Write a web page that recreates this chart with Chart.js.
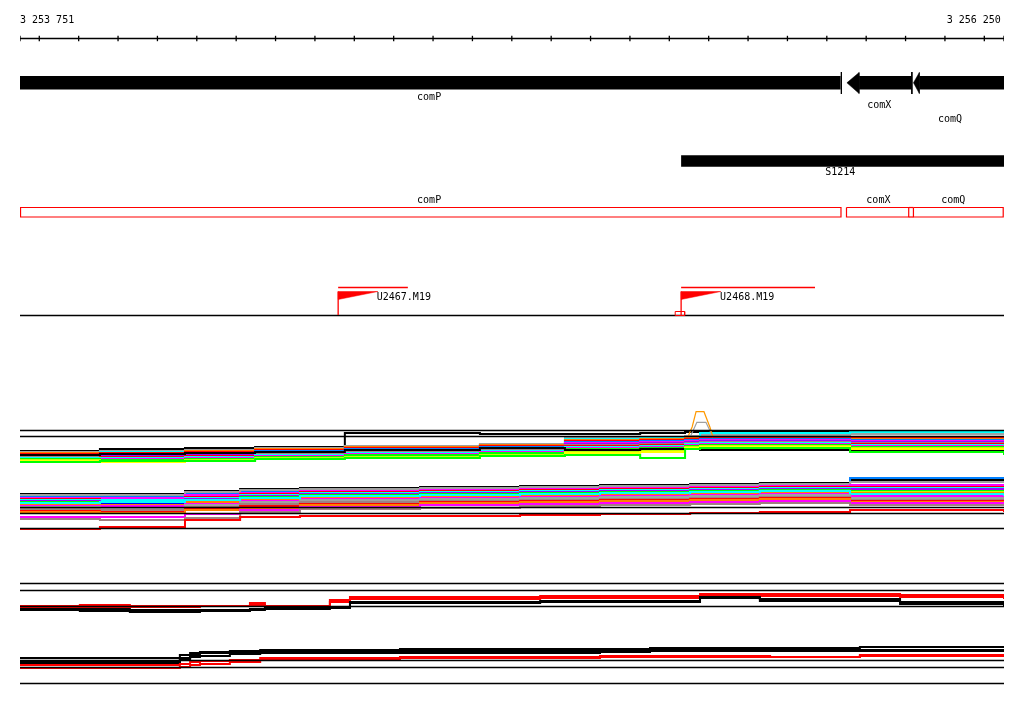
<!DOCTYPE html>
<html><head><meta charset="utf-8">
<script src="https://cdn.jsdelivr.net/npm/chart.js@4.4.1/dist/chart.umd.min.js"></script>
<style>html,body{margin:0;padding:0;background:#fff;overflow:hidden}#wrap{width:1024px;height:714px;position:relative}</style>
</head><body><div id="wrap"><canvas id="c"></canvas></div>
<script>
// ---- view / ruler ----
const viewStart = 3253751, viewEnd = 3256250;
const rulerTicks = [3253751,3253800,3253900,3254000,3254100,3254200,3254300,3254400,3254500,3254600,3254700,3254800,3254900,3255000,3255100,3255200,3255300,3255400,3255500,3255600,3255700,3255800,3255900,3256000,3256100,3256200,3256250];
const rulerLabels = ['3 253 751','3 256 250'];

// ---- genes (arrow track) ----
const geneNames  = ['comP','comX','comQ'];
const geneStart  = [3253751, 3255851, 3256020];
const geneEnd    = [3255835, 3256016, 3256250];
const geneStrand = ['+','-','-'];
const geneArrow  = [0, 31, 15];
const geneMarks  = [3255837, 3256016];

// ---- segment ----
const segNames = ['S1214'];
const segStart = [3255430];
const segEnd   = [3256250];

// ---- annotation boxes ----
const boxNames = ['comP','comX','comQ'];
const boxStart = [3253751, 3255850, 3256020];
const boxEnd   = [3255836, 3256008, 3256248];
const boxMarks = [3256008, 3256020];

// ---- primers ----
const primerNames = ['U2467.M19','U2468.M19'];
const primerPos   = [3254559, 3255430];
const primerSpan  = [3254736, 3255770];

// ---- horizontal reference lines (track rows) ----
const refRows = [315.5, 430.5, 436.5, 507.5, 513.5, 528.5, 583.5, 590.5, 606.5, 660.5, 667.5, 683.5];

// ---- profile bundle 1 (value i holds from X[i] to X[i+1]) ----
const bundle1X = [3253751,3253954,3254170,3254348,3254576,3254919,3255135,3255326,3255440,3255478,3255859,3256250];
const bundle1Colors = ['#000000','#a0a0a0','#00ffff','#ff8000','#ff0000','#0080ff','#ff00ff','#a000ff','#a08080','#ff0000','#00ffff','#ff00ff','#00ff00','#c0ff00','#ffff00','#000000','#00ff00'];
const bundle1Y = [
 [451,449,448,447,433,434,434,433,432,431,431,431],
 [452,451,450,448,446,444,438,437,436,435,434,434],
 [453,452,451,449,447,445,439,438,437,433,432,433],
 [453,453,451,449,447,445,440,439,438,437,438,439],
 [454,453,452,450,448,446,441,440,439,438,437,437],
 [455,454,453,451,449,447,442,441,440,439,440,441],
 [456,455,454,452,450,448,443,442,441,440,441,442],
 [457,456,455,453,451,449,444,443,442,441,442,443],
 [457,457,456,454,452,450,445,444,443,442,443,444],
 [458,457,456,455,453,451,446,445,444,443,444,445],
 [458,458,457,455,453,451,447,446,444,443,445,446],
 [459,459,458,456,454,452,448,447,445,444,446,447],
 [459,460,459,457,455,453,449,448,446,445,447,448],
 [460,461,460,458,457,455,452,451,447,446,448,449],
 [461,462,461,459,458,456,453,452,448,447,449,450],
 [455,454,453,452,450,448,450,449,449,450,451,452],
 [462,461,461,459,458,456,455,458,449,448,452,455]
];
const bumpOrangeX = [3255447,3255458,3255468,3255488,3255503,3255511];
const bumpOrangeY = [437,427,411.7,411.7,427,437];
const bumpGrayX = [3255453,3255470,3255493,3255511];
const bumpGrayY = [437,422.3,422.3,437];

// ---- profile bundle 2 ----
const bundle2X = [3253751,3253954,3254170,3254310,3254462,3254767,3255021,3255224,3255453,3255630,3255859,3256250];
const bundle2Colors = ['#000000','#0080ff','#a0a0a0','#ff00ff','#ff0000','#00ffff','#a000ff','#00ff00','#c0ff00','#0000ff','#ff8000','#ff00ff','#00ffff','#a0a0a0','#a08080','#ff0000','#ff8000','#ff00ff','#a08080','#ff0000'];
const bundle2Y = [
 [494,494,491,489,488,487,486,485,484,483,480,480],
 [496,496,493,491,489,488,487,486,485,484,478,478],
 [495,495,492,490,489,488,487,486,485,484,482,482],
 [498,498,495,493,491,490,489,488,487,486,485,486],
 [499,500,497,494,492,491,490,489,488,487,487,487],
 [500,500,498,495,493,492,491,490,489,488,488,489],
 [501,502,499,496,494,493,492,491,490,489,489,490],
 [502,503,500,497,495,494,493,492,491,490,491,491],
 [503,504,501,498,496,495,494,493,492,491,492,492],
 [504,503,501,499,497,497,496,495,494,493,495,495],
 [505,505,502,499,497,496,495,494,493,492,493,494],
 [506,506,504,501,499,498,497,496,495,494,496,497],
 [503,502,500,498,496,495,494,493,492,491,494,496],
 [507,508,505,502,500,499,498,497,496,495,498,499],
 [509,510,507,504,502,501,500,499,498,497,500,500],
 [511,512,509,506,504,502,501,500,499,498,501,502],
 [512,513,510,508,505,503,502,501,500,499,502,503],
 [517,517,514,510,507,505,504,503,502,501,503,504],
 [519,520,518,512,509,508,506,505,504,503,505,505],
 [529,527,520,517,516,516,515,514,513,512,510,512]
];

// ---- profile bundle 3 ----
const bundle3X = [3253751,3253827,3253903,3254030,3254208,3254335,3254373,3254538,3254589,3255072,3255478,3255630,3255986,3256250];
const bundle3Colors = ['#ff0000','#ff0000','#000000','#000000'];
const bundle3Y = [
 [608,607,607,607,606,603,606,600,597,596,594,594,595,597],
 [606,606,605,606,606,605,606,602,599,598,596,596,597,599],
 [610,610,611,612,611,610,609,608,603,602,598,601,604,607],
 [609,609,609,610,610,609,608,607,602,601,597,599,602,605]
];

// ---- profile bundle 4 ----
const bundle4X = [3253751,3254119,3254157,3254183,3254208,3254284,3254361,3254716,3255224,3255351,3255656,3255884,3256250];
const bundle4Colors = ['#000000','#000000','#000000','#ff0000','#ff0000'];
const bundle4Y = [
 [658,658,655,653,652,651,650,649,649,648,648,647,647],
 [662,662,658,655,653,652,652,651,650,650,650,650,650],
 [663,663,660,657,656,654,653,653,652,651,651,651,651],
 [665,665,664,662,661,660,658,657,656,656,657,655,655],
 [668,668,667,665,664,662,660,658,657,657,657,656,656]
];

// ---- texts ----
const FONT = '10px "DejaVu Sans Mono"';
const texts = [
 {t:rulerLabels[0], x:viewStart, y:20.5, a:'left'},
 {t:rulerLabels[1], x:viewEnd-8, y:20.5, a:'right'},
 {t:geneNames[0], x:3254790, y:97.5, a:'center'},
 {t:geneNames[1], x:3255933, y:105, a:'center'},
 {t:geneNames[2], x:3256113, y:119, a:'center'},
 {t:segNames[0], x:3255834, y:172, a:'center'},
 {t:boxNames[0], x:3254790, y:200.5, a:'center'},
 {t:boxNames[1], x:3255931, y:200.5, a:'center'},
 {t:boxNames[2], x:3256121, y:200.5, a:'center'},
 {t:primerNames[0], x:3254657, y:297.5, a:'left'},
 {t:primerNames[1], x:3255529, y:297.5, a:'left'}
];

// ---- build datasets ----
const ds = [];
function pts(xs, ys){ return xs.map((x,i)=>({x:x, y:ys[i]})); }
function line(data, color, w, extra){
  ds.push(Object.assign({data:data, showLine:true, borderColor:color, backgroundColor:color, borderWidth:w, pointRadius:0, pointHoverRadius:0, tension:0, fill:false, borderCapStyle:'butt', borderJoinStyle:'miter'}, extra||{}));
}
function shape(data, color){
  ds.push({data:data, showLine:true, borderColor:color, backgroundColor:color, borderWidth:0.5, pointRadius:0, tension:0, fill:'shape'});
}

function bundle(X, Ys, cols, w){
  Ys.forEach((ys,i)=> line(pts(X, ys), cols[i], w, {stepped:'before'}));
}
bundle(bundle1X, bundle1Y, bundle1Colors, 2);
line(pts(bumpGrayX, bumpGrayY), '#a0a0a0', 1.2);
line(pts(bumpOrangeX, bumpOrangeY), '#ff9900', 1.2);
bundle(bundle2X, bundle2Y, bundle2Colors, 2);
bundle(bundle3X, bundle3Y, bundle3Colors, 2);
bundle(bundle4X, bundle4Y, bundle4Colors, 2);

refRows.forEach(y=> line([{x:viewStart,y:y},{x:viewEnd,y:y}], '#000000', 1.3));

line([{x:viewStart,y:38.5},{x:viewEnd,y:38.5}], '#000000', 1.3);
ds.push({data:rulerTicks.map(x=>({x:x,y:38.5})), showLine:false, pointStyle:'line', rotation:90, pointRadius:2.7, borderColor:'#000', borderWidth:1.3, backgroundColor:'#000'});

const barTop = 76, barBot = 89.5, headTop = 72.5, headBot = 93.5, mid = 82.8;
geneNames.forEach((g,i)=>{
  if (geneStrand[i] === '+') {
    line([{x:geneStart[i],y:mid},{x:geneEnd[i],y:mid}], '#000', barBot-barTop);
  } else {
    const hb = geneStart[i] + geneArrow[i];
    line([{x:hb,y:mid},{x:geneEnd[i],y:mid}], '#000', barBot-barTop);
    shape([{x:geneStart[i],y:mid},{x:hb,y:headTop},{x:hb,y:headBot},{x:geneStart[i],y:mid}], '#000');
  }
});
geneMarks.forEach(x=> line([{x:x,y:72},{x:x,y:94}], '#000', 1));

segNames.forEach((s,i)=> line([{x:segStart[i],y:161},{x:segEnd[i],y:161}], '#000', 11.5));

boxNames.forEach((b,i)=> line([{x:boxStart[i],y:207.5},{x:boxEnd[i],y:207.5},{x:boxEnd[i],y:217},{x:boxStart[i],y:217},{x:boxStart[i],y:207.5}], '#ff0000', 1.2));
line([{x:boxMarks[0],y:207.5},{x:boxMarks[1],y:207.5}], '#ff0000', 1.2);
line([{x:boxMarks[0],y:217},{x:boxMarks[1],y:217}], '#ff0000', 1.2);
line([{x:viewStart+1,y:207.5},{x:viewStart+1,y:217}], '#ff0000', 1.5);

primerNames.forEach((p,i)=>{
  line([{x:primerPos[i],y:287.5},{x:primerSpan[i],y:287.5}], '#ff0000', 1.3);
  line([{x:primerPos[i],y:291.5},{x:primerPos[i],y:315}], '#ff0000', 1.3);
  shape([{x:primerPos[i],y:291.5},{x:primerPos[i]+101,y:291.5},{x:primerPos[i],y:299.5},{x:primerPos[i],y:291.5}], '#ff0000');
});
line([{x:3255415,y:311.5},{x:3255439,y:311.5},{x:3255439,y:315.5},{x:3255415,y:315.5},{x:3255415,y:311.5}], '#ff0000', 1);

ds.forEach((d,i)=> d.order = -i);

const textPlugin = {
  id:'texts',
  afterDatasetsDraw(chart){
    const ctx = chart.ctx, xs = chart.scales.x, ys = chart.scales.y;
    ctx.save();
    ctx.font = FONT; ctx.fillStyle = '#000'; ctx.textBaseline = 'middle';
    texts.forEach(o=>{ ctx.textAlign = o.a; ctx.fillText(o.t, xs.getPixelForValue(o.x), ys.getPixelForValue(o.y)); });
    ctx.restore();
  }
};

new Chart(document.getElementById('c'), {
  type:'scatter',
  data:{datasets:ds},
  options:{
    responsive:true, maintainAspectRatio:false, animation:false,
    layout:{autoPadding:false, padding:{left:20,right:20,top:0,bottom:0}},
    plugins:{legend:{display:false}, tooltip:{enabled:false}},
    events:[],
    scales:{
      x:{type:'linear', min:viewStart, max:viewEnd, display:false},
      y:{type:'linear', min:0, max:714, reverse:true, display:false}
    }
  },
  plugins:[textPlugin]
});
</script></body></html>
